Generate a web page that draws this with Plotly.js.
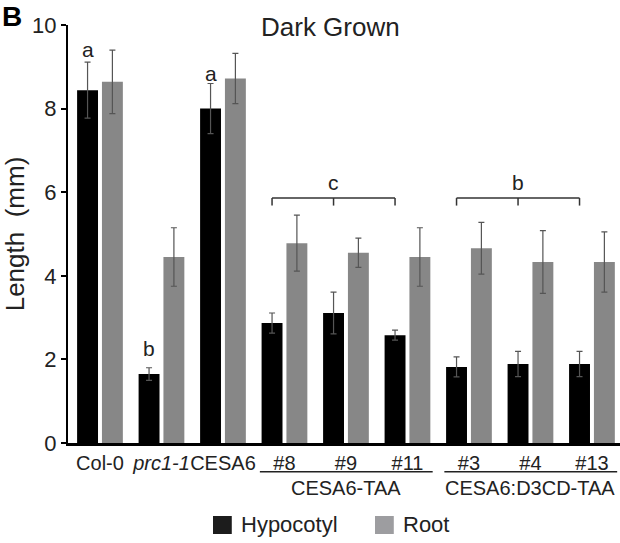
<!DOCTYPE html>
<html><head><meta charset="utf-8">
<script src="https://cdn.plot.ly/plotly-3.0.1.min.js"></script>
<style>html,body{margin:0;padding:0;background:#fff}</style>
</head><body><div id="chart" style="width:620px;height:543px"></div>
<script>
const categories = ["Col-0", "<i>prc1-1</i>", "CESA6", "#8", "#9", "#11", "#3", "#4", "#13"];
const seriesNames = ["Hypocotyl", "Root"];
const hypocotyl = [8.44, 1.65, 8.0, 2.87, 3.11, 2.58, 1.82, 1.89, 1.89];
const hypocotylErr = [0.67, 0.15, 0.6, 0.24, 0.5, 0.12, 0.24, 0.3, 0.3];
const root = [8.64, 4.45, 8.72, 4.78, 4.55, 4.45, 4.66, 4.33, 4.33];
const rootErr = [0.76, 0.7, 0.6, 0.67, 0.35, 0.7, 0.62, 0.75, 0.72];
const sigLetters = ["a", "b", "a"];
const sigIndex = [0, 1, 2];
const sigY = [9.42, 2.25, 8.85];
const groupLabels = ["CESA6-TAA", "CESA6:D3CD-TAA"];
const groupStart = [3, 6];
const groupEnd = [5, 8];
const groupLetters = ["c", "b"];
const bracketY = 5.86;

const idx = categories.map((_, i) => i);
const font = "Liberation Sans, Arial, sans-serif";
const txt = "#222";
const barColors = ["#000", "#878787"];
const swatchColors = ["#1c1c1c", "#9d9da0"];

const traces = [
  {type: "bar", name: seriesNames[0], x: idx, y: hypocotyl, width: 0.34, offset: -0.372,
   marker: {color: barColors[0]}, showlegend: false,
   error_y: {type: "data", array: hypocotylErr, color: "#555", thickness: 1.2, width: 3}},
  {type: "bar", name: seriesNames[1], x: idx, y: root, width: 0.34, offset: 0.032,
   marker: {color: barColors[1]}, showlegend: false,
   error_y: {type: "data", array: rootErr, color: "#555", thickness: 1.2, width: 3}}
];

const hypCenter = i => i - 0.372 + 0.17;
const shapes = [];
const annotations = [];
sigLetters.forEach((l, k) => annotations.push({x: hypCenter(sigIndex[k]), y: sigY[k], xref: "x", yref: "y",
  text: l, showarrow: false, yanchor: "middle", font: {family: font, size: 21, color: txt}}));
groupStart.forEach((s, k) => {
  const e = groupEnd[k];
  const x0 = hypCenter(s), x1 = hypCenter(e), xm = hypCenter((s + e) / 2);
  const lw = {color: "#333", width: 1.5};
  shapes.push({type: "line", xref: "x", yref: "y", x0: x0, x1: x1, y0: bracketY, y1: bracketY, line: lw});
  shapes.push({type: "line", xref: "x", yref: "y", x0: x0, x1: x0, y0: bracketY, y1: bracketY - 0.18, line: lw});
  shapes.push({type: "line", xref: "x", yref: "y", x0: x1, x1: x1, y0: bracketY, y1: bracketY - 0.18, line: lw});
  shapes.push({type: "line", xref: "x", yref: "y", x0: xm, x1: xm, y0: bracketY, y1: bracketY - 0.18, line: lw});
  annotations.push({x: xm, y: bracketY + 0.37, xref: "x", yref: "y", text: groupLetters[k], showarrow: false,
    yanchor: "middle", font: {family: font, size: 21, color: txt}});
  shapes.push({type: "line", xref: "x", yref: "paper", x0: s - 0.4, x1: e + 0.41, y0: -0.069, y1: -0.069,
    line: {color: "#222", width: 1.5}});
  annotations.push({x: (s + e) / 2, y: -0.108, xref: "x", yref: "paper", text: groupLabels[k], showarrow: false,
    xanchor: "center", yanchor: "middle", font: {family: font, size: 20, color: txt}});
});
// legend (custom, larger swatches)
const legX = [0.2627, 0.5562];
seriesNames.forEach((n, k) => {
  shapes.push({type: "rect", xref: "paper", yref: "paper", x0: legX[k], x1: legX[k] + 0.034,
    y0: -0.2177, y1: -0.1746, fillcolor: swatchColors[k], line: {width: 0}});
  annotations.push({x: legX[k] + 0.047, y: -0.196, xref: "paper", yref: "paper", text: n, showarrow: false,
    xanchor: "left", yanchor: "middle", font: {family: font, size: 22, color: txt}});
});
annotations.push({x: 0.475, y: 0.995, xref: "paper", yref: "paper", text: "Dark Grown", showarrow: false,
  xanchor: "center", yanchor: "middle", font: {family: font, size: 26, color: txt}});
annotations.push({x: -0.123, y: 1.02, xref: "paper", yref: "paper", text: "<b>B</b>", showarrow: false,
  xanchor: "left", yanchor: "middle", font: {family: font, size: 28, color: "#000"}});

const layout = {
  width: 620, height: 543,
  margin: {l: 68, r: 0, t: 25, b: 100, autoexpand: false},
  paper_bgcolor: "#fff", plot_bgcolor: "#fff",
  showlegend: false,
  xaxis: {range: [-0.52, 8.456], tickvals: idx, ticktext: categories, showgrid: false, zeroline: false,
    tickangle: 0, automargin: false,
    showline: true, linecolor: "#000", linewidth: 2.5, ticks: "", tickfont: {family: font, size: 20, color: txt}},
  yaxis: {range: [0, 10], tickvals: [0, 2, 4, 6, 8, 10], showgrid: false, zeroline: false,
    showline: true, linecolor: "#000", linewidth: 2, ticks: "outside", ticklen: 5, tickwidth: 2, tickcolor: "#000",
    tickfont: {family: font, size: 22, color: txt},
    title: {text: "Length  (mm)", font: {family: font, size: 26, color: txt}, standoff: 0}},
  shapes: shapes, annotations: annotations
};
Plotly.newPlot("chart", traces, layout, {displayModeBar: false, staticPlot: true});
</script></body></html>
